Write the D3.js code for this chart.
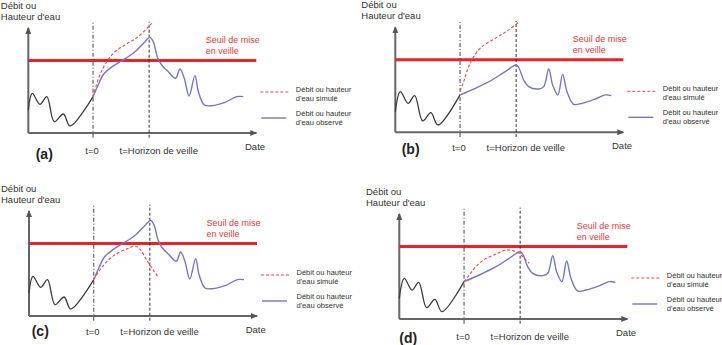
<!DOCTYPE html>
<html>
<head>
<meta charset="utf-8">
<script src="https://cdn.jsdelivr.net/npm/d3@7"></script>
<style>
  body { margin: 0; background: #fff; }
  text { font-family: "Liberation Sans", Arial, sans-serif; }
</style>
</head>
<body>
<div id="chart"></div>
<script>
var svgWidth = 722;
var svgHeight = 345;

// Shared values (time and level in arbitrary units, 0-100)
var tZero = 28.4;
var tHorizon = 53;
var threshold = 69;

// Observed series, flood above the threshold (panels a and c)
var obsHighX = [0, 1.75, 5.1, 8.1, 11.4, 15.4, 18.3, 28.4, 30.3, 33, 37, 41, 46.8, 51.2, 53.4, 54.8, 56.8, 58.5, 61.4, 64.6, 66.5, 68.4, 70.5, 73.1, 74.6, 77.2, 80.4, 86.3, 91.4, 94.3];
var obsHighY = [21.9, 37.8, 27.3, 34.6, 10.8, 18.1, 6.7, 34.6, 44, 56, 63.5, 68.8, 77.4, 87, 91.1, 87, 71.1, 64.8, 58.4, 52.1, 61, 52.1, 35.2, 54.6, 39.3, 26.7, 26, 29.2, 34.6, 34.6];

// Observed series, peak below the threshold (panels b and d)
var obsLowX = [0, 2.2, 5.6, 8.5, 12, 15.6, 18.7, 28.4, 35.1, 42.4, 48.2, 53, 54.3, 56.3, 58.5, 62.9, 65.1, 67.3, 69, 71.3, 73.4, 75.3, 78.2, 81.9, 87.7, 92.1, 94.7];
var obsLowY = [19.7, 38.7, 27.6, 34.9, 10.8, 18.7, 7, 35.6, 41.9, 49.8, 57.8, 64.1, 61, 49.8, 43.5, 41.3, 43.5, 60.3, 45.1, 35.6, 55.2, 38.7, 26.7, 27.6, 31.7, 35.6, 34.9];

// Simulated series, one per panel
var simAX = [28.4, 29.2, 31.4, 34.4, 38, 42.4, 48.2, 54.1];
var simAY = [34.6, 41, 55.2, 67.9, 77.4, 83.8, 91.7, 104.4];
var simBX = [28.4, 30, 31.9, 34.4, 38, 43.9, 49, 54.1];
var simBY = [39.4, 48.3, 61, 72.1, 81.6, 89.5, 96.5, 104.8];
var simCX = [28.4, 31.1, 34.8, 39.2, 43.6, 46.5, 48.7, 51.6, 54.5, 56.7];
var simCY = [34.6, 43.8, 53.3, 60.3, 64.4, 66.7, 63.5, 53.3, 43.8, 36.8];
var simDX = [28.4, 30.7, 33.6, 37.3, 42.4, 46.8, 49.7, 52.6, 54.8, 57];
var simDY = [35.6, 41.9, 49.8, 56.8, 61.9, 65.7, 65.1, 62.5, 57.8, 53];

// Texts
var yLabel = ["Débit ou", "Hauteur d'eau"];
var seuilLabel = ["Seuil de mise", "en veille"];
var simLabel = ["Débit ou hauteur", "d'eau simulé"];
var obsLabel = ["Débit ou hauteur", "d'eau observé"];
var tZeroLabel = "t=0";
var tHorizonLabel = "t=Horizon de veille";
var xLabel = "Date";

var zip = function(xs, ys) { return xs.map(function(v, i) { return [v, ys[i]]; }); };

// panel layout: origin of the axes, y label and letter placement
var panels = [
  { letter: "(a)", ox: 28.3, oy: 133, obsX: obsHighX, obsY: obsHighY, simX: simAX, simY: simAY, yx: -27.5, lx: 7.4, ly: 26, by: 21 },
  { letter: "(b)", ox: 395.3, oy: 132.3, obsX: obsLowX, obsY: obsLowY, simX: simBX, simY: simBY, yx: -34, lx: 6.4, ly: 21.7, by: 19.2 },
  { letter: "(c)", ox: 29, oy: 316, obsX: obsHighX, obsY: obsHighY, simX: simCX, simY: simCY, yx: -28, lx: 2.7, ly: 20, by: 19 },
  { letter: "(d)", ox: 399.3, oy: 319, obsX: obsLowX, obsY: obsLowY, simX: simDX, simY: simDY, yx: -33.3, lx: 0, ly: 24, by: 21 }
];

var svg = d3.select("#chart")
  .append("svg")
  .attr("width", svgWidth)
  .attr("height", svgHeight);

svg.append("defs").append("marker")
  .attr("id", "arrow")
  .attr("markerUnits", "userSpaceOnUse")
  .attr("markerWidth", 7)
  .attr("markerHeight", 6)
  .attr("refX", 6)
  .attr("refY", 3)
  .attr("orient", "auto")
  .append("path")
  .attr("d", "M0,0 L7,3 L0,6 Z")
  .attr("fill", "#555");

// scales are shared, each panel group is moved to its origin
var xScale = d3.scaleLinear().domain([0, 100]).range([0, 228]);
var yScale = d3.scaleLinear().domain([0, 100]).range([0, -105]);

var line = d3.line()
  .x(d => xScale(d[0]))
  .y(d => yScale(d[1]))
  .curve(d3.curveCatmullRom.alpha(0.5));

panels.forEach(function(p) {
  var g = svg.append("g")
    .attr("transform", `translate(${p.ox}, ${p.oy})`);

  // axes
  g.append("line")
    .attr("x1", xScale(0)).attr("x2", xScale(0))
    .attr("y1", yScale(0)).attr("y2", yScale(100))
    .attr("stroke", "#666").attr("stroke-width", 2)
    .attr("marker-end", "url(#arrow)");
  g.append("line")
    .attr("x1", xScale(0)).attr("x2", xScale(100))
    .attr("y1", yScale(0)).attr("y2", yScale(0))
    .attr("stroke", "#666").attr("stroke-width", 2)
    .attr("marker-end", "url(#arrow)");

  // threshold
  g.append("line")
    .attr("x1", xScale(0)).attr("x2", xScale(100))
    .attr("y1", yScale(threshold)).attr("y2", yScale(threshold))
    .attr("stroke", "#e8232a").attr("stroke-width", 3);

  // t=0 and horizon markers
  g.append("line")
    .attr("x1", xScale(tZero)).attr("x2", xScale(tZero))
    .attr("y1", yScale(-4.5)).attr("y2", yScale(106))
    .attr("stroke", "#444").attr("stroke-width", 1)
    .attr("stroke-dasharray", "4,2,1,2");
  g.append("line")
    .attr("x1", xScale(tHorizon)).attr("x2", xScale(tHorizon))
    .attr("y1", yScale(-4.5)).attr("y2", yScale(106))
    .attr("stroke", "#333").attr("stroke-width", 1)
    .attr("stroke-dasharray", "3,2");

  // observed: black before t=0, blue after
  var obs = zip(p.obsX, p.obsY);
  g.append("path")
    .attr("d", line(obs.filter(d => d[0] <= tZero)))
    .attr("fill", "none").attr("stroke", "#3c3c3c").attr("stroke-width", 1.3);
  g.append("path")
    .attr("d", line(obs.filter(d => d[0] >= tZero)))
    .attr("fill", "none").attr("stroke", "#7676c2").attr("stroke-width", 1.4);

  // simulated
  g.append("path")
    .attr("d", line(zip(p.simX, p.simY)))
    .attr("fill", "none").attr("stroke", "#f04848").attr("stroke-width", 1.1)
    .attr("stroke-dasharray", "3,2");

  // y label
  g.append("text").attr("x", p.yx).attr("y", -124).attr("font-size", "9.5px").attr("fill", "#333").text(yLabel[0]);
  g.append("text").attr("x", p.yx).attr("y", -113.5).attr("font-size", "9.5px").attr("fill", "#333").text(yLabel[1]);

  // threshold label
  g.append("text").attr("x", 177.5).attr("y", -90).attr("font-size", "9px").attr("fill", "#f03a3a").text(seuilLabel[0]);
  g.append("text").attr("x", 177.5).attr("y", -79).attr("font-size", "9px").attr("fill", "#f03a3a").text(seuilLabel[1]);

  // legend
  g.append("line")
    .attr("x1", 232).attr("x2", 262).attr("y1", -41).attr("y2", -41)
    .attr("stroke", "#f04848").attr("stroke-width", 1).attr("stroke-dasharray", "3,2");
  g.append("text").attr("x", 267.5).attr("y", -41).attr("font-size", "7.5px").attr("fill", "#333").text(simLabel[0]);
  g.append("text").attr("x", 267.5).attr("y", -32.5).attr("font-size", "7.5px").attr("fill", "#333").text(simLabel[1]);
  g.append("line")
    .attr("x1", 233).attr("x2", 258).attr("y1", -15).attr("y2", -15)
    .attr("stroke", "#7676c2").attr("stroke-width", 1.4);
  g.append("text").attr("x", 267.5).attr("y", -17).attr("font-size", "7.5px").attr("fill", "#333").text(obsLabel[0]);
  g.append("text").attr("x", 267.5).attr("y", -8.5).attr("font-size", "7.5px").attr("fill", "#333").text(obsLabel[1]);

  // bottom labels
  g.append("text").attr("x", 57).attr("y", p.by).attr("font-size", "9.5px").attr("fill", "#333").text(tZeroLabel);
  g.append("text").attr("x", 91.3).attr("y", p.by).attr("font-size", "9.5px").attr("fill", "#333").text(tHorizonLabel);
  g.append("text").attr("x", 216.7).attr("y", 16.5).attr("font-size", "9.5px").attr("fill", "#333").text(xLabel);

  g.append("text")
    .attr("x", p.lx).attr("y", p.ly)
    .attr("font-size", "14px").attr("font-weight", "bold").attr("fill", "#222")
    .text(p.letter);
});
</script>
</body>
</html>
